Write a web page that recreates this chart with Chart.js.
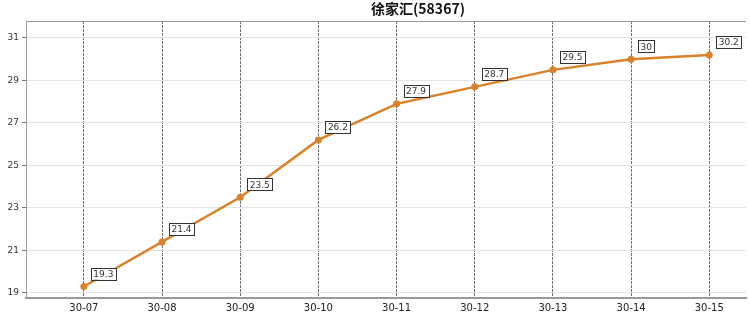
<!DOCTYPE html>
<html lang="zh">
<head>
<meta charset="UTF-8">
<title>徐家汇(58367)</title>
<script src="https://cdn.jsdelivr.net/npm/chart.js"></script>
<style>
  html, body { margin: 0; padding: 0; background: #fff; }
  #wrap { width: 750px; height: 336px; }
</style>
</head>
<body>
<div id="wrap"><canvas id="tempChart"></canvas></div>
<script>
const chartTitle = '徐家汇(58367)';
const dayLabels = ['30-07', '30-08', '30-09', '30-10', '30-11', '30-12', '30-13', '30-14', '30-15'];
const tempValues = [19.3, 21.4, 23.5, 26.2, 27.9, 28.7, 29.5, 30, 30.2];
const yTicks = [19, 21, 23, 25, 27, 29, 31];

const lineColor = '#d9822b';

// value boxes to the upper right of each point
const boxLabels = {
    id: 'boxLabels',
    afterDatasetsDraw(chart) {
        const ctx = chart.ctx;
        const meta = chart.getDatasetMeta(0);
        ctx.save();
        ctx.font = '9px "DejaVu Sans", sans-serif';
        ctx.textBaseline = 'middle';
        meta.data.forEach((pt, i) => {
            const txt = String(tempValues[i]);
            const w = ctx.measureText(txt).width + 5;
            const h = 12;
            const x = pt.x + 7;
            const y = pt.y - 7 - h;
            ctx.fillStyle = '#fff';
            ctx.fillRect(x, y, w, h);
            ctx.strokeStyle = '#333';
            ctx.lineWidth = 1;
            ctx.strokeRect(Math.round(x) + 0.5, Math.round(y) + 0.5, Math.round(w), h);
            ctx.fillStyle = '#333';
            ctx.fillText(txt, x + 2.5, y + h / 2 + 1);
        });
        ctx.restore();
    }
};

const titleDraw = {
    id: 'titleDraw',
    afterDraw(chart) {
        const ctx = chart.ctx;
        ctx.save();
        ctx.font = 'bold 14px "Noto Sans CJK SC", sans-serif';
        ctx.fillStyle = '#111';
        ctx.textAlign = 'center';
        ctx.textBaseline = 'middle';
        ctx.fillText(chartTitle, 418, 9);
        ctx.restore();
    }
};

new Chart(document.getElementById('tempChart'), {
    type: 'line',
    data: {
        datasets: [{
            data: tempValues.map((v, i) => ({ x: i, y: v })),
            borderColor: lineColor,
            backgroundColor: lineColor,
            borderWidth: 2.5,
            pointRadius: 3.5,
            pointBackgroundColor: lineColor,
            pointBorderWidth: 0,
            tension: 0
        }]
    },
    options: {
        responsive: true,
        maintainAspectRatio: false,
        animation: false,
        layout: { padding: { top: 21, right: 0, left: 0, bottom: 0 } },
        plugins: { legend: { display: false }, tooltip: { enabled: false } },
        scales: {
            x: {
                type: 'linear',
                min: -0.74,
                max: 8.47,
                afterBuildTicks: axis => { axis.ticks = dayLabels.map((d, i) => ({ value: i })); },
                afterFit: axis => { axis.height = 38; },
                ticks: {
                    callback: (v) => dayLabels[v],
                    color: '#222',
                    font: { size: 10, family: '"DejaVu Sans", sans-serif' },
                    padding: 4,
                    maxRotation: 0
                },
                grid: {
                    color: '#707070',
                    tickLength: 0,
                    drawTicks: false
                },
                border: { color: '#999', width: 2, dash: [3, 1] }
            },
            y: {
                min: 18.76,
                max: 31.8,
                afterBuildTicks: axis => { axis.ticks = yTicks.map(v => ({ value: v })); },
                afterFit: axis => { axis.width = 26; },
                ticks: {
                    color: '#333',
                    font: { size: 9, family: '"DejaVu Sans", sans-serif' },
                    padding: 3
                },
                grid: {
                    color: '#e4e4e4',
                    tickColor: '#777',
                    tickLength: 4
                },
                border: { color: '#999', width: 1 }
            }
        }
    },
    plugins: [boxLabels, titleDraw, {
        id: 'topBorder',
        beforeDatasetsDraw(chart) {
            const a = chart.chartArea, ctx = chart.ctx;
            ctx.save();
            ctx.strokeStyle = '#999';
            ctx.lineWidth = 1;
            ctx.beginPath();
            ctx.moveTo(a.left, a.top + 0.5);
            ctx.lineTo(a.right, a.top + 0.5);
            ctx.stroke();
            ctx.restore();
        }
    }]
});
</script>
</body>
</html>
